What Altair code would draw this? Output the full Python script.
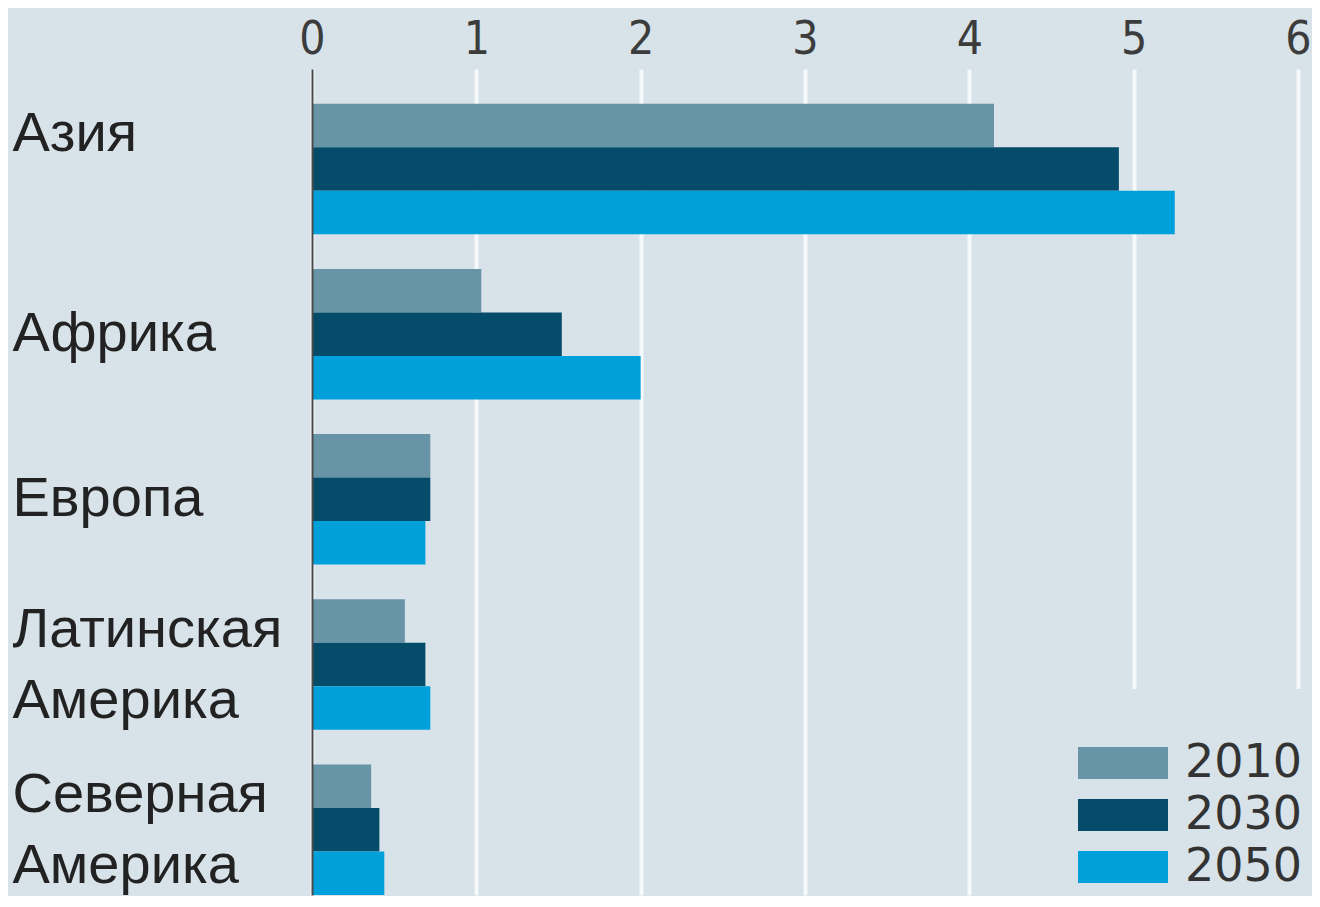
import altair as alt
import pandas as pd

regions = ["Азия", "Африка", "Европа", "Латинская Америка", "Северная Америка"]
years = ["2010", "2030", "2050"]
v2010 = [4.15, 1.03, 0.72, 0.565, 0.36]
v2030 = [4.91, 1.52, 0.72, 0.69, 0.41]
v2050 = [5.25, 2.00, 0.69, 0.72, 0.44]
x_ticks = [0, 1, 2, 3, 4, 5, 6]
colors = ["#6794a7", "#044c69", "#00a0db"]

rows = []
for i, r in enumerate(regions):
    for y, vals in zip(years, [v2010, v2030, v2050]):
        rows.append({"region": r, "year": y, "value": vals[i]})
df = pd.DataFrame(rows)

BG = "#d7e2e9"

label_expr = "split(datum.label, ' ')"
shift_test = "datum.value == 'Азия' || indexof(datum.value, ' ') >= 0"

chart = alt.Chart(df).mark_bar().encode(
    y=alt.Y(
        "region:N",
        sort=regions,
        scale=alt.Scale(paddingInner=0.21, paddingOuter=0.105, align=1),
        axis=alt.Axis(
            title=None,
            labelAlign="left",
            labelPadding=300,
            labelOffset={"condition": {"test": shift_test, "value": -35}, "value": 0},
            ticks=False,
            tickSize=0,
            domain=True,
            domainColor="#4a4a4a",
            domainWidth=2,
            grid=False,
            zindex=1,
            labelFont="Liberation Sans",
            labelFontSize=56,
            labelColor="#222222",
            labelLineHeight=71,
            labelLimit=0,
            labelExpr=label_expr,
        ),
    ),
    yOffset=alt.YOffset("year:N", sort=years, scale=alt.Scale(paddingInner=0, paddingOuter=0)),
    x=alt.X(
        "value:Q",
        scale=alt.Scale(domain=[0, 6], nice=False, zero=True),
        axis=alt.Axis(
            orient="top",
            title=None,
            values=x_ticks,
            domain=False,
            ticks=False,
            grid=True,
            gridColor="#f5f9fc",
            gridWidth=4,
            labelFont="Liberation Sans Narrow, DejaVu Sans Condensed, Liberation Sans",
            labelFontSize=46,
            labelColor="#3c3c3c",
            labelPadding=6,
            labelFlush=False,
        ),
    ),
    color=alt.Color(
        "year:N",
        sort=years,
        scale=alt.Scale(domain=years, range=colors),
        legend=alt.Legend(
            title=None,
            orient="none",
            legendX=737,
            legendY=620,
            padding=51,
            fillColor=BG,
            strokeColor=BG,
            symbolType="M-3,-1.07L3,-1.07L3,1.07L-3,1.07Z",
            symbolSize=900,
            symbolStrokeWidth=0,
            symbolOpacity=1,
            labelFont="DejaVu Sans",
            labelFontSize=46,
            labelColor="#333333",
            labelOffset=39,
            rowPadding=6,
        ),
    ),
).properties(
    width=986,
    height=826,
    autosize="none",
    padding={"left": 304, "top": 61, "right": 14, "bottom": 1},
).configure(
    background=BG,
).configure_view(
    stroke=None,
    fill=BG,
)

chart.save("out.html", embed_options={"renderer": "svg", "actions": False})
